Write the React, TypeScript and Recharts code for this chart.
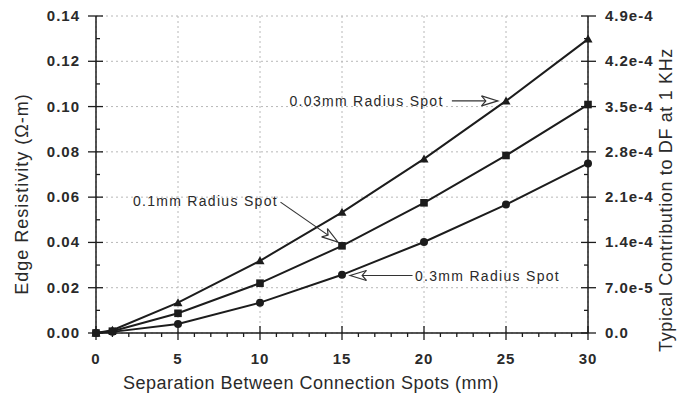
import React from "react";
import {
  CartesianGrid,
  Label,
  Line,
  LineChart,
  ReferenceDot,
  ReferenceLine,
  XAxis,
  YAxis,
} from "recharts";

// separation (mm) and edge resistivity (ohm-m) for each spot radius
const separation = [0, 1, 5, 10, 15, 20, 25, 30];
const spot003 = [0, 0.0012, 0.0134, 0.0319, 0.0533, 0.0769, 0.1025, 0.1298];
const spot01 = [0, 0.0008, 0.0087, 0.022, 0.0385, 0.0575, 0.0784, 0.1009];
const spot03 = [0, 0.0005, 0.004, 0.0134, 0.0257, 0.0402, 0.0567, 0.0749];

const xTicks = [
  0, 1, 2, 3, 4, 5, 6, 7, 8, 9, 10, 11, 12, 13, 14, 15, 16, 17, 18, 19, 20,
  21, 22, 23, 24, 25, 26, 27, 28, 29, 30,
];
const xMajorTicks = [0, 5, 10, 15, 20, 25, 30];
const yTicks = [
  0, 0.01, 0.02, 0.03, 0.04, 0.05, 0.06, 0.07, 0.08, 0.09, 0.1, 0.11, 0.12,
  0.13, 0.14,
];
const yMajorTicks = [0, 0.02, 0.04, 0.06, 0.08, 0.1, 0.12, 0.14];
const yTickLabels = ["0.00", "0.02", "0.04", "0.06", "0.08", "0.10", "0.12", "0.14"];
const rightTicks = [
  0, 3.5e-5, 7e-5, 1.05e-4, 1.4e-4, 1.75e-4, 2.1e-4, 2.45e-4, 2.8e-4, 3.15e-4,
  3.5e-4, 3.85e-4, 4.2e-4, 4.55e-4, 4.9e-4,
];
const rightTickLabels = ["0.0", "7.0e-5", "1.4e-4", "2.1e-4", "2.8e-4", "3.5e-4", "4.2e-4", "4.9e-4"];

const annotations = [
  { text: "0.03mm Radius Spot", at: [11.8, 0.1025], from: [21.7, 0.1025], to: [24.5, 0.1025] },
  { text: "0.1mm Radius Spot", at: [2.25, 0.0582], from: [11.25, 0.0578], to: [14.75, 0.0402] },
  { text: "0.3mm Radius Spot", at: [19.45, 0.0253], from: [19.3, 0.0254], to: [15.5, 0.0254] },
];

const data = separation.map((x, i) => ({
  x,
  r003: spot003[i],
  r01: spot01[i],
  r03: spot03[i],
}));

const font = '"Liberation Sans", Arial, Helvetica, sans-serif';
const ink = "#1c1c1c";

const tickText = {
  fontFamily: font,
  fontSize: 15,
  fontWeight: 700,
  letterSpacing: 1,
  fill: "#2a2a2a",
};

function BottomTick(props: any) {
  const { x, y, payload } = props;
  const major = payload.value % 5 === 0;
  return (
    <g>
      <line x1={x} x2={x} y1={major ? y - 7 : y} y2={major ? y + 7 : y + 4} stroke={ink} strokeWidth={1.3} />
      {major && (
        <text x={x} y={y + 31} textAnchor="middle" {...tickText}>
          {payload.value}
        </text>
      )}
    </g>
  );
}

function TopTick(props: any) {
  const { x, y, payload } = props;
  const major = payload.value % 5 === 0;
  return <line x1={x} x2={x} y1={y} y2={y + (major ? 7 : 4)} stroke={ink} strokeWidth={1.3} />;
}

function LeftTick(props: any) {
  const { x, y, index } = props;
  const major = index % 2 === 0;
  return (
    <g>
      <line x1={major ? x - 8 : x} x2={x + (major ? 7 : 4)} y1={y} y2={y} stroke={ink} strokeWidth={1.3} />
      {major && (
        <text x={x - 16} y={y + 5} textAnchor="end" {...tickText}>
          {yTickLabels[index / 2]}
        </text>
      )}
    </g>
  );
}

function RightTick(props: any) {
  const { x, y, index } = props;
  const major = index % 2 === 0;
  return (
    <g>
      <line x1={x - (major ? 7 : 4)} x2={major ? x + 8 : x} y1={y} y2={y} stroke={ink} strokeWidth={1.3} />
      {major && (
        <text x={x + 17} y={y + 5} textAnchor="start" {...tickText}>
          {rightTickLabels[index / 2]}
        </text>
      )}
    </g>
  );
}

function Arrow(props: any) {
  const { x1, y1, x2, y2 } = props;
  const a = Math.atan2(y2 - y1, x2 - x1);
  const len = 17;
  const spread = 0.3;
  const lx = x2 - len * Math.cos(a - spread);
  const ly = y2 - len * Math.sin(a - spread);
  const rx = x2 - len * Math.cos(a + spread);
  const ry = y2 - len * Math.sin(a + spread);
  const nx = x2 - (len - 5) * Math.cos(a);
  const ny = y2 - (len - 5) * Math.sin(a);
  return (
    <g stroke="#333" strokeWidth={1.2} fill="none">
      <line x1={x1} y1={y1} x2={nx} y2={ny} />
      <polyline points={`${lx},${ly} ${x2},${y2} ${rx},${ry}`} />
      <polyline points={`${lx},${ly} ${nx},${ny} ${rx},${ry}`} />
    </g>
  );
}

function AnnotationText(text: string) {
  return (props: any) => (
    <text
      x={props.cx}
      y={props.cy + 5}
      fontFamily={font}
      fontSize={14}
      letterSpacing={1.3}
      fill="#2a2a2a"
    >
      {text}
    </text>
  );
}

function Triangle(props: any) {
  const { cx, cy } = props;
  if (cx == null || cy == null) return null;
  return <polygon points={`${cx},${cy - 4.5} ${cx + 4.5},${cy + 3.5} ${cx - 4.5},${cy + 3.5}`} fill={ink} />;
}

function Square(props: any) {
  const { cx, cy } = props;
  if (cx == null || cy == null) return null;
  return <rect x={cx - 3.8} y={cy - 3.8} width={7.6} height={7.6} fill={ink} />;
}

function Dot(props: any) {
  const { cx, cy } = props;
  if (cx == null || cy == null) return null;
  return <circle cx={cx} cy={cy} r={4} fill={ink} />;
}

export default function App() {
  return (
    <div style={{ position: "absolute", left: 0, top: 0, background: "#fff" }}>
      <LineChart width={678} height={396} data={data} margin={{ top: 16, right: 0, bottom: 0, left: 0 }}>
        <CartesianGrid
          yAxisId="left"
          stroke="#b8b8b8"
          strokeDasharray="2 3"
          verticalValues={xMajorTicks}
          horizontalValues={yMajorTicks}
        />
        <XAxis
          dataKey="x"
          type="number"
          domain={[0, 30]}
          ticks={xTicks}
          interval={0}
          height={63}
          tickSize={0}
          tickMargin={0}
          tick={<BottomTick />}
          axisLine={{ stroke: ink, strokeWidth: 1.5 }}
        >
          <Label
            content={() => (
              <text x={311} y={389} textAnchor="middle" fontFamily={font} fontSize={18} letterSpacing={0.5} fill="#2a2a2a">
                Separation Between Connection Spots (mm)
              </text>
            )}
          />
        </XAxis>
        <XAxis
          xAxisId="top"
          orientation="top"
          type="number"
          domain={[0, 30]}
          allowDataOverflow
          ticks={xTicks}
          interval={0}
          height={0}
          tickSize={0}
          tickMargin={0}
          tick={<TopTick />}
          axisLine={{ stroke: ink, strokeWidth: 1.5 }}
        />
        <YAxis
          yAxisId="left"
          domain={[0, 0.14]}
          ticks={yTicks}
          interval={0}
          width={96}
          tickSize={0}
          tickMargin={0}
          tick={<LeftTick />}
          axisLine={{ stroke: ink, strokeWidth: 1.5 }}
        >
          <Label
            content={() => (
              <text
                x={0}
                y={0}
                transform="translate(28 194) rotate(-90)"
                textAnchor="middle"
                fontFamily={font}
                fontSize={18}
                letterSpacing={1}
                fill="#2a2a2a"
              >
                Edge Resistivity (Ω-m)
              </text>
            )}
          />
        </YAxis>
        <YAxis
          yAxisId="right"
          orientation="right"
          type="number"
          domain={[0, 4.9e-4]}
          allowDataOverflow
          ticks={rightTicks}
          interval={0}
          width={90}
          tickSize={0}
          tickMargin={0}
          tick={<RightTick />}
          axisLine={{ stroke: ink, strokeWidth: 1.5 }}
        >
          <Label
            content={() => (
              <text
                x={0}
                y={0}
                transform="translate(672 200) rotate(-90)"
                textAnchor="middle"
                fontFamily={font}
                fontSize={18}
                letterSpacing={0.65}
                fill="#2a2a2a"
              >
                Typical Contribution to DF at 1 KHz
              </text>
            )}
          />
        </YAxis>

        <Line yAxisId="left" dataKey="r003" stroke={ink} strokeWidth={2} dot={<Triangle />} isAnimationActive={false} />
        <Line yAxisId="left" dataKey="r01" stroke={ink} strokeWidth={2} dot={<Square />} isAnimationActive={false} />
        <Line yAxisId="left" dataKey="r03" stroke={ink} strokeWidth={2} dot={<Dot />} isAnimationActive={false} />

        {annotations.map((a) => (
          <ReferenceLine
            key={a.text + "-arrow"}
            yAxisId="left"
            segment={[
              { x: a.from[0], y: a.from[1] },
              { x: a.to[0], y: a.to[1] },
            ]}
            shape={<Arrow />}
          />
        ))}
        {annotations.map((a) => (
          <ReferenceDot
            key={a.text}
            yAxisId="left"
            x={a.at[0]}
            y={a.at[1]}
            r={1}
            shape={AnnotationText(a.text)}
          />
        ))}
      </LineChart>
    </div>
  );
}
